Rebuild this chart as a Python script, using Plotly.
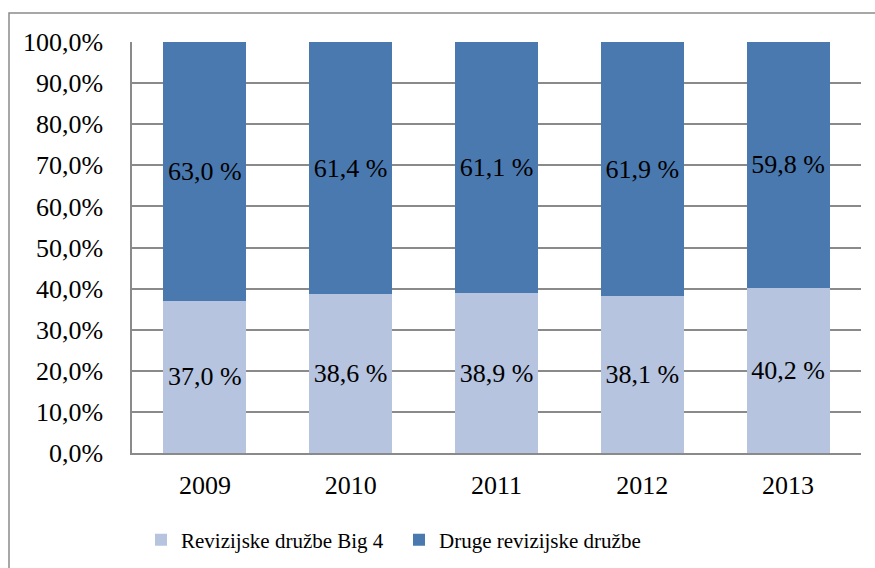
import plotly.graph_objects as go

# Market share of audit firms by year (percent)
years = ["2009", "2010", "2011", "2012", "2013"]
big4 = [37.0, 38.6, 38.9, 38.1, 40.2]
other = [63.0, 61.4, 61.1, 61.9, 59.8]
series_names = ["Revizijske družbe Big 4", "Druge revizijske družbe"]
y_ticks = [0, 10, 20, 30, 40, 50, 60, 70, 80, 90, 100]

LIGHT = "#B6C4E0"
DARK = "#4A79B0"
GRID = "#8A8A8A"
FONT = "Times New Roman, Liberation Serif, serif"
W, H = 875, 568
L, R, T, B = 132, 14, 42, 115


def pct_label(v):
    return f"{v:.1f}".replace(".", ",") + " %"


def tick_label(v):
    return f"{v:.1f}".replace(".", ",") + "%"


fig = go.Figure()
for name, vals, col in [(series_names[0], big4, LIGHT), (series_names[1], other, DARK)]:
    fig.add_trace(go.Bar(
        x=years, y=vals, name=name,
        marker=dict(color=col, line=dict(width=0)),
        text=[pct_label(v) for v in vals],
        textposition="inside", insidetextanchor="middle",
        textangle=0, constraintext="none",
        textfont=dict(family=FONT, size=26, color="black"),
        hoverinfo="skip",
    ))

pw = W - L - R
ph = H - T - B
fig.update_layout(
    width=W, height=H,
    margin=dict(l=L, r=R, t=T, b=B, pad=0, autoexpand=False),
    barmode="stack", bargap=0.43,
    paper_bgcolor="white", plot_bgcolor="white",
    font=dict(family=FONT, size=26, color="black"),
    showlegend=True,
    legend=dict(
        orientation="h", x=(141 - L) / pw, xanchor="left",
        y=-(540 - (T + ph)) / ph, yanchor="middle",
        entrywidth=213, entrywidthmode="pixels",
        font=dict(family=FONT, size=21, color="black"),
        bgcolor="rgba(0,0,0,0)", traceorder="normal",
        itemclick=False,
    ),
    xaxis=dict(
        showgrid=False, showline=True, linecolor=GRID, linewidth=1.5,
        ticks="", ticklabelstandoff=8,
        tickfont=dict(family=FONT, size=26),
    ),
    yaxis=dict(
        range=[0, 100], tickmode="array", tickvals=y_ticks,
        ticktext=[tick_label(v) for v in y_ticks],
        showgrid=True, gridcolor=GRID, gridwidth=1.5,
        showline=True, linecolor=GRID, linewidth=1.5,
        zeroline=False, ticks="", ticklabelstandoff=22,
        tickfont=dict(family=FONT, size=26),
    ),
    shapes=[dict(
        type="rect", xref="paper", yref="paper",
        x0=(9 - L) / pw, x1=(W + 40 - L) / pw,
        y0=-(H + 40 - T - ph) / ph, y1=1 + (T - 13) / ph,
        line=dict(color=GRID, width=1.5), fillcolor="rgba(0,0,0,0)",
        layer="below",
    )],
)

fig.write_html("out.html")
